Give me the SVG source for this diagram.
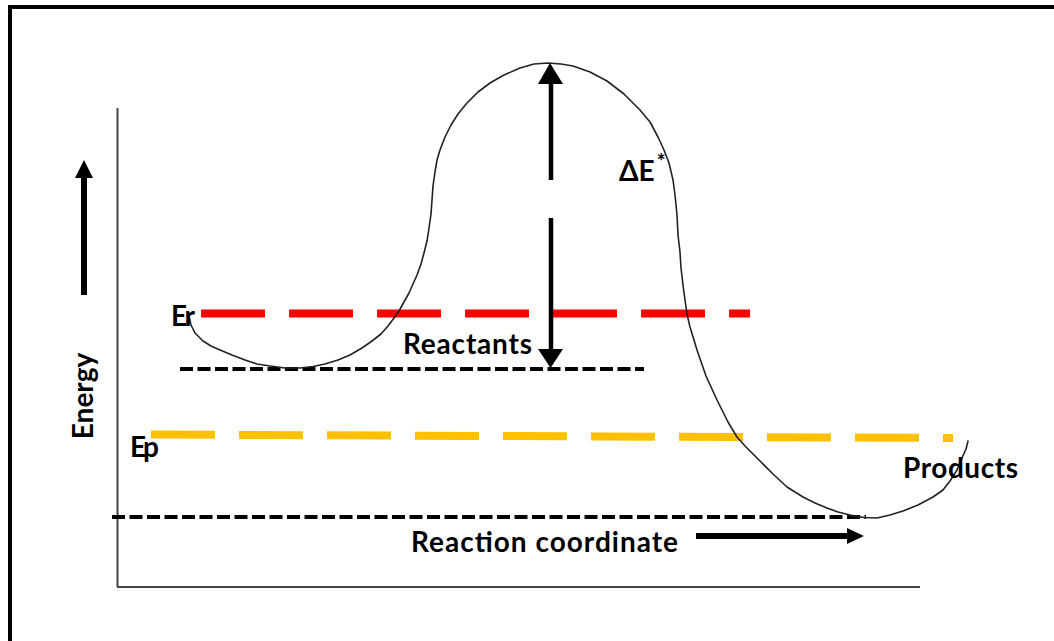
<svg xmlns="http://www.w3.org/2000/svg" width="1054" height="641" viewBox="0 0 1054 641">
<style>
.lbl{font-family:Lato,"Open Sans","Noto Sans",sans-serif;font-weight:bold;font-size:28px;fill:#000}
.axis{stroke:#444;stroke-width:2;fill:none}
.dot{stroke:#000;stroke-width:4;stroke-dasharray:13 4.5;fill:none}
.lvl{stroke-width:8;stroke-dasharray:64 24;fill:none}
.arr{stroke:#000;fill:none}
</style>
<rect x="0" y="0" width="1054" height="641" fill="#fff"/>
<rect x="10" y="7" width="1200" height="800" fill="none" stroke="#000" stroke-width="4"/>
<g id="axes">
<line class="axis" x1="117.5" y1="108" x2="117.5" y2="587"/>
<line class="axis" x1="117" y1="587" x2="920" y2="587"/>
</g>
<g id="levels">
<line class="lvl" stroke="#FF0000" x1="201" y1="313.5" x2="750" y2="313.5"/>
<line class="lvl" stroke="#FFC000" x1="151" y1="434.5" x2="953" y2="438"/>
<line class="dot" x1="180" y1="369" x2="644" y2="369"/>
<line class="dot" x1="112" y1="517" x2="866" y2="517"/>
</g>
<g id="curve">
<polyline fill="none" stroke="#222" stroke-width="1.6" stroke-linejoin="round" stroke-linecap="round" points="189,316 191,325 195,333 203,341 211,346 220,350 232,355 245,360 257,364 270,366 285,368 300,368 313,366.5 325,364 338,360 350,355 362,348 372,341 381,334 388,326 394,318 399,311 404,302 409,293 413,284 417,275 421,264 424,253 427,241 429,228 431,214 432,200 433,186 435,172 437,160 440,150 445,137 451,125 458,114 467,103 478,92 490,83 504,75 520,68 534,64 548,63 561,64 573,66 590,72 607,81 624,94 640,110 650,122 658,137 664,150 669,163 673,180 675,195 677,215 678,235 680,252 681,268 683,285 685,300 687,314 690,327 697,350 706,376 717,400 728,422 737,437 746,447 760,461 773,474 787,487 803,497 815,503 827,508 838,512 850,515 864,517.5 877,518 890,515 903,511 918,505 933,497 943,490 950,481 957,470 962,458 966,449 968,441"/>
</g>
<g id="connectors">
<line class="arr" x1="84" y1="177" x2="84" y2="295" stroke-width="6"/>
<polygon points="84,160 93,178 75,178" fill="#000"/>
<line class="arr" x1="551" y1="82" x2="551" y2="180" stroke-width="4.5"/>
<polygon points="550,63 563,84 538,84" fill="#000"/>
<line class="arr" x1="551" y1="218" x2="551" y2="351" stroke-width="4.5"/>
<polygon points="550.5,368 563,349 538,349" fill="#000"/>
<line class="arr" x1="696" y1="536" x2="849" y2="536" stroke-width="6"/>
<polygon points="864,536 847,528 847,544" fill="#000"/>
</g>
<g id="labels">
<text class="lbl" transform="translate(93,396) rotate(-90)" text-anchor="middle">Energy</text>
<text class="lbl" x="171" y="326" textLength="24">Er</text>
<text class="lbl" x="130" y="457" textLength="29">Ep</text>
<text class="lbl" x="403" y="354" textLength="129">Reactants</text>
<text class="lbl" x="903" y="478" textLength="115">Products</text>
<text class="lbl" x="411" y="552" textLength="267">Reaction coordinate</text>
<text class="lbl" x="619" y="181">ΔE<tspan font-size="21" dy="-12" dx="2">*</tspan></text>
</g>
</svg>
